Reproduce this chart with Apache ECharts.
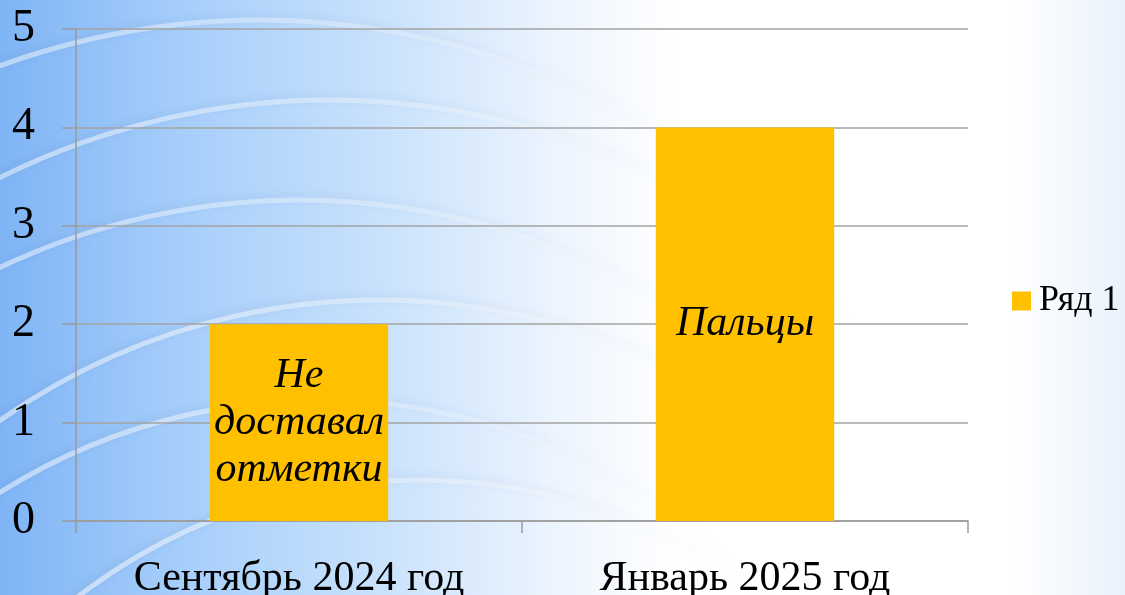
<!DOCTYPE html>
<html>
<head>
<meta charset="utf-8">
<script src="https://cdn.jsdelivr.net/npm/echarts@6/dist/echarts.min.js"></script>
<style>
  html, body { margin: 0; padding: 0; }
  #chart {
    width: 1125px; height: 595px;
    background: linear-gradient(90deg, #7fb4f6 0%, #a6cefb 16%, #c9e2fc 34%, #eef5fe 50%, #ffffff 60%, #ffffff 90%, #e9f2fc 100%);
  }
</style>
</head>
<body>
<div id="chart"></div>
<script>
// данные диаграммы
var categories = ["Сентябрь 2024 год", "Январь 2025 год"];
var values = [2, 4];
var barLabels = ["Не\nдоставал\nотметки", "Пальцы"];
var seriesName = "Ряд 1";

var myChart = echarts.init(document.getElementById("chart"));

// декоративные дуги фона (только слева, с затуханием вправо)
var arcs = [];
var rings = [
  [260, 780, 760], [330, 840, 740], [300, 900, 700], [380, 960, 660], [320, 1000, 600], [420, 1040, 560]
];
rings.forEach(function (r) {
  arcs.push({
    type: "arc",
    shape: { cx: r[0], cy: r[1], r: r[2], startAngle: Math.PI * 1.05, endAngle: Math.PI * 1.75 },
    style: {
      fill: null,
      stroke: new echarts.graphic.LinearGradient(0, 0, 1, 0, [
        { offset: 0, color: "rgba(255,255,255,0.6)" },
        { offset: 0.45, color: "rgba(255,255,255,0.45)" },
        { offset: 1, color: "rgba(255,255,255,0)" }
      ]),
      lineWidth: 5,
      shadowBlur: 8,
      shadowOffsetY: -2,
      shadowColor: "rgba(70,100,150,0.3)"
    },
    silent: true,
    z: -10
  });
});

var option = {
  textStyle: { fontFamily: "Liberation Serif" },
  graphic: arcs,
  legend: {
    data: [seriesName],
    left: 1012,
    top: 283,
    padding: 0,
    itemWidth: 19,
    itemHeight: 19,
    icon: "rect",
    textStyle: { fontSize: 36, color: "#000", fontFamily: "Liberation Serif", padding: [0, 0, 0, 3] }
  },
  grid: {
    left: 76,
    right: 157,
    top: 29,
    bottom: 74,
    containLabel: false,
    outerBoundsMode: "none"
  },
  xAxis: {
    type: "category",
    data: categories,
    axisLine: { lineStyle: { color: "#9a9a9a", width: 1.5 } },
    axisTick: { show: true, length: 12, lineStyle: { color: "#9a9a9a", width: 1.5 } },
    axisLabel: { fontSize: 42, color: "#000", margin: 37, fontFamily: "Liberation Serif" }
  },
  yAxis: {
    type: "value",
    min: 0,
    max: 5,
    interval: 1,
    axisLine: { show: true, lineStyle: { color: "#9a9a9a", width: 1.5 } },
    axisTick: { show: true, length: 14, lineStyle: { color: "#9a9a9a", width: 1.5 } },
    axisLabel: { fontSize: 46, color: "#000", margin: 41, fontFamily: "Liberation Serif" },
    splitLine: { show: true, lineStyle: { color: "#a3a3a3", width: 1.5 } }
  },
  series: [
    {
      name: seriesName,
      type: "bar",
      barWidth: "40%",
      data: values,
      itemStyle: { color: "#ffc000" },
      label: {
        show: true,
        position: "inside",
        color: "#000",
        fontSize: 42,
        fontStyle: "italic",
        lineHeight: 47,
        fontFamily: "Liberation Serif",
        formatter: function (p) {
          return barLabels[p.dataIndex];
        }
      }
    }
  ]
};
myChart.setOption(option);
</script>
</body>
</html>
